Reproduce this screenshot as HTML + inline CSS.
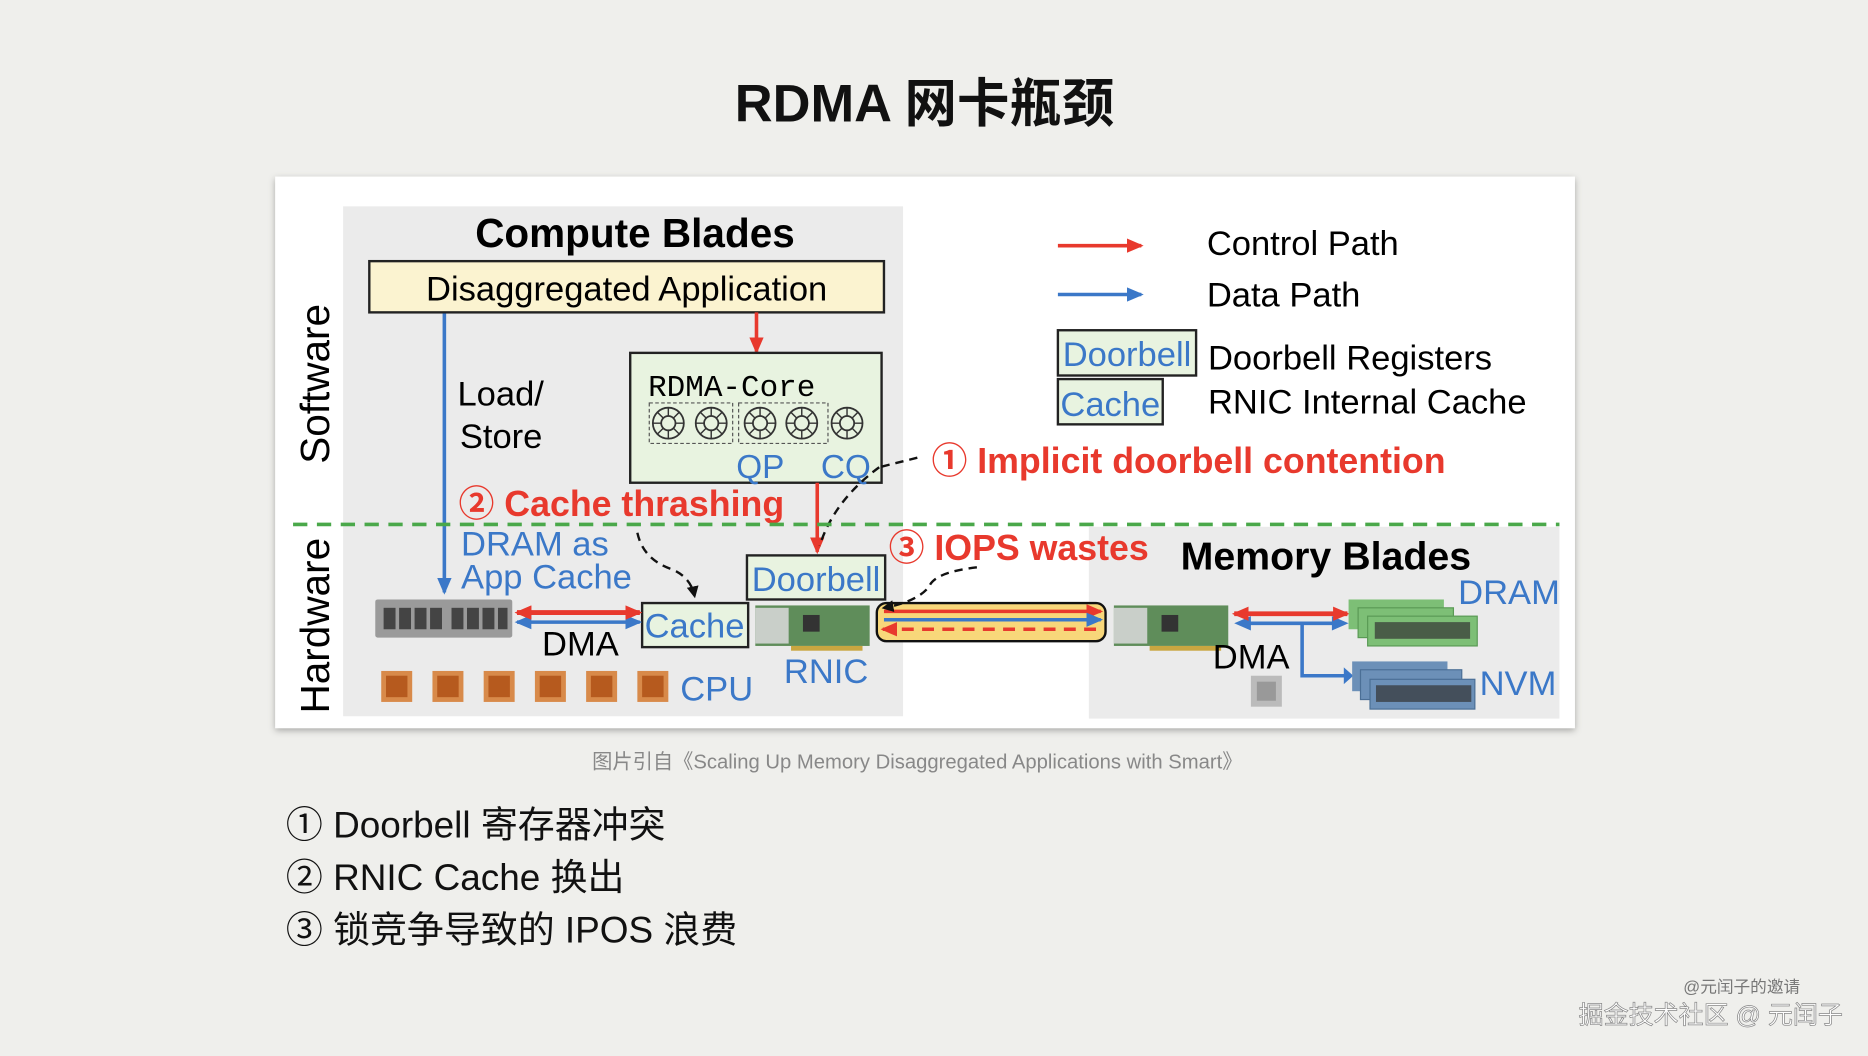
<!DOCTYPE html>
<html><head><meta charset="utf-8"><style>
html,body{margin:0;padding:0;background:#efefec;}
svg{display:block}
</style></head><body>
<svg width="1868" height="1056" viewBox="0 0 1568 886" xmlns="http://www.w3.org/2000/svg" font-family="Liberation Sans, Noto Sans CJK SC, sans-serif">
<defs>
<marker id="ar" markerWidth="14" markerHeight="12" refX="12" refY="6" orient="auto-start-reverse" markerUnits="userSpaceOnUse"><path d="M0,0 L14,6 L0,12z" fill="#e8392d"/></marker>
<marker id="ab" markerWidth="14" markerHeight="12" refX="12" refY="6" orient="auto-start-reverse" markerUnits="userSpaceOnUse"><path d="M0,0 L14,6 L0,12z" fill="#3b78c8"/></marker>
<marker id="ak" markerWidth="10" markerHeight="10" refX="8" refY="5" orient="auto" markerUnits="userSpaceOnUse"><path d="M0,0 L10,5 L0,10z" fill="#111"/></marker>
<filter id="sh" x="-5%" y="-5%" width="110%" height="115%"><feDropShadow dx="0" dy="2" stdDeviation="3" flood-opacity="0.3"/></filter>
<g id="chip"><rect x="-13" y="-13" width="26" height="26" fill="#d88a4a"/><rect x="-9" y="-9" width="18" height="18" fill="#b65a1e"/></g>
<g id="gear"><circle r="13" fill="none" stroke="#333" stroke-width="1.5"/><circle r="6" fill="none" stroke="#333" stroke-width="1.5"/><path d="M0,-13V-6M0,13V6M-13,0H-6M13,0H6M-9,-9L-4,-4M9,9L4,4M-9,9L-4,4M9,-9L4,-4" stroke="#333" stroke-width="1.2"/></g>
<g id="nic"><rect x="0" y="0" width="96" height="34" fill="#5f8d5a"/><rect x="0" y="2" width="28" height="30" fill="#c9cfc9"/><rect x="40" y="8" width="14" height="14" fill="#333"/><rect x="30" y="34" width="60" height="4" fill="#c9a640"/></g>
</defs>
<text x="776" y="102" font-size="44" font-weight="bold" text-anchor="middle" fill="#111">RDMA 网卡瓶颈</text>
<rect x="231" y="148" width="1091" height="463" fill="#fff" filter="url(#sh)"/>
<rect x="288" y="173" width="470" height="428" fill="#ebebeb"/>
<rect x="914" y="442" width="395" height="161" fill="#ebebeb"/>
<text x="533" y="207" font-size="34" font-weight="bold" text-anchor="middle">Compute Blades</text>
<rect x="310" y="219" width="432" height="43" fill="#fbf3d0" stroke="#222" stroke-width="2"/>
<text x="526" y="252" font-size="29" text-anchor="middle">Disaggregated Application</text>
<line x1="373" y1="263" x2="373" y2="497" stroke="#3b78c8" stroke-width="3" marker-end="url(#ab)"/>
<text x="384" y="340" font-size="29">Load/</text><text x="386" y="376" font-size="29">Store</text>
<line x1="635" y1="262" x2="635" y2="295" stroke="#e8392d" stroke-width="3" marker-end="url(#ar)"/>
<rect x="529" y="296" width="211" height="109" fill="#e8f3e0" stroke="#222" stroke-width="2"/>
<text x="544" y="332" font-size="26" font-family="Liberation Mono, monospace">RDMA-Core</text>
<rect x="545" y="338" width="70" height="34" fill="none" stroke="#555" stroke-dasharray="3,2"/>
<rect x="620" y="338" width="75" height="34" fill="none" stroke="#555" stroke-dasharray="3,2"/>
<use href="#gear" x="561" y="355"/><use href="#gear" x="597" y="355"/><use href="#gear" x="638" y="355"/><use href="#gear" x="673" y="355"/><use href="#gear" x="711" y="355"/>
<text x="618" y="401" font-size="28" fill="#3b78c8">QP</text><text x="689" y="401" font-size="28" fill="#3b78c8">CQ</text>
<line x1="686" y1="405" x2="686" y2="463" stroke="#e8392d" stroke-width="3" marker-end="url(#ar)"/>
<path d="M770,384 L738,392 M738,392 Q700,420 688,458" fill="none" stroke="#111" stroke-width="2" stroke-dasharray="7,5"/>
<text x="782" y="397" font-size="30" font-weight="bold" fill="#e8392d">① Implicit doorbell contention</text>
<text x="385" y="433" font-size="30" font-weight="bold" fill="#e8392d">② Cache thrashing</text>
<line x1="246" y1="440" x2="1309" y2="440" stroke="#4aa84a" stroke-width="3" stroke-dasharray="12,8"/>
<text transform="translate(276,322) rotate(-90)" font-size="34" text-anchor="middle">Software</text>
<text transform="translate(276,525) rotate(-90)" font-size="34" text-anchor="middle">Hardware</text>
<text x="387" y="466" font-size="29" fill="#3b78c8">DRAM as</text><text x="387" y="494" font-size="29" fill="#3b78c8">App Cache</text>
<path d="M535,447 Q540,470 565,478 Q580,485 583,500" fill="none" stroke="#111" stroke-width="2" stroke-dasharray="7,5" marker-end="url(#ak)"/>
<rect x="627" y="466" width="116" height="37" fill="#e8f3e0" stroke="#222" stroke-width="2"/>
<text x="685" y="496" font-size="29" fill="#3b78c8" text-anchor="middle">Doorbell</text>
<rect x="539" y="506" width="89" height="37" fill="#e8f3e0" stroke="#222" stroke-width="2"/>
<text x="583" y="535" font-size="29" fill="#3b78c8" text-anchor="middle">Cache</text>
<rect x="315" y="503" width="115" height="32" fill="#9a9a9a" rx="2"/>
<g fill="#444"><rect x="322" y="510" width="10" height="18"/><rect x="335" y="510" width="10" height="18"/><rect x="348" y="510" width="10" height="18"/><rect x="361" y="510" width="10" height="18"/><rect x="379" y="510" width="10" height="18"/><rect x="392" y="510" width="10" height="18"/><rect x="405" y="510" width="10" height="18"/><rect x="418" y="510" width="8" height="18"/></g>
<line x1="434" y1="514" x2="537" y2="514" stroke="#e8392d" stroke-width="4" marker-end="url(#ar)" marker-start="url(#ar)"/>
<line x1="434" y1="522" x2="537" y2="522" stroke="#3b78c8" stroke-width="3" marker-end="url(#ab)" marker-start="url(#ab)"/>
<line x1="434" y1="514" x2="537" y2="514" stroke="#e8392d" stroke-width="4" marker-end="url(#ar)" marker-start="url(#ar)"/>
<text x="455" y="550" font-size="29">DMA</text>
<use href="#chip" x="333" y="576"/><use href="#chip" x="376" y="576"/><use href="#chip" x="419" y="576"/><use href="#chip" x="462" y="576"/><use href="#chip" x="505" y="576"/><use href="#chip" x="548" y="576"/>
<text x="571" y="588" font-size="29" fill="#3b78c8">CPU</text>
<use href="#nic" x="634" y="508"/>
<text x="658" y="573" font-size="29" fill="#3b78c8">RNIC</text>
<text x="746" y="470" font-size="30" font-weight="bold" fill="#e8392d">③ IOPS wastes</text>
<rect x="736" y="506" width="192" height="32" rx="8" fill="#f8d77a" stroke="#111" stroke-width="2"/>
<line x1="742" y1="513" x2="924" y2="513" stroke="#e8392d" stroke-width="3" marker-end="url(#ar)"/>
<line x1="742" y1="520" x2="924" y2="520" stroke="#3b78c8" stroke-width="3" marker-end="url(#ab)"/>
<line x1="920" y1="528" x2="741" y2="528" stroke="#e8392d" stroke-width="3" stroke-dasharray="10,7" marker-end="url(#ar)"/>
<path d="M820,476 Q785,480 780,492 Q770,505 742,510" fill="none" stroke="#111" stroke-width="2" stroke-dasharray="7,5" marker-end="url(#ak)"/>
<text x="991" y="478" font-size="33" font-weight="bold">Memory Blades</text>
<use href="#nic" x="935" y="508"/>
<path d="M1040,523 H1128 M1093,523 V567 H1130" fill="none" stroke="#3b78c8" stroke-width="3"/>
<path d="M1128,560 L1136,567 L1128,574z" fill="#3b78c8"/>
<path d="M1050,517 L1036,523 L1050,529z M1118,517 L1132,523 L1118,529z" fill="#3b78c8"/>
<line x1="1036" y1="515" x2="1131" y2="515" stroke="#e8392d" stroke-width="4" marker-end="url(#ar)" marker-start="url(#ar)"/>
<text x="1018" y="561" font-size="29">DMA</text>
<g><rect x="1132" y="503" width="80" height="25" fill="#7dbf76"/><rect x="1140" y="510" width="80" height="25" fill="#7dbf76" stroke="#5a9a55"/><rect x="1148" y="517" width="92" height="25" fill="#7dbf76" stroke="#5a9a55"/><rect x="1154" y="522" width="80" height="14" fill="#333" opacity="0.7"/></g>
<text x="1224" y="507" font-size="29" fill="#3b78c8">DRAM</text>
<g><rect x="1135" y="555" width="80" height="25" fill="#6c90b8"/><rect x="1142" y="562" width="85" height="25" fill="#6c90b8" stroke="#4b6f96"/><rect x="1150" y="570" width="88" height="25" fill="#6c90b8" stroke="#4b6f96"/><rect x="1155" y="575" width="80" height="14" fill="#333" opacity="0.7"/></g>
<text x="1242" y="583" font-size="29" fill="#3b78c8">NVM</text>
<rect x="1050" y="567" width="26" height="26" fill="#bbb"/><rect x="1055" y="572" width="16" height="16" fill="#999"/>
<line x1="888" y1="206" x2="958" y2="206" stroke="#e8392d" stroke-width="3" marker-end="url(#ar)"/>
<line x1="888" y1="247" x2="958" y2="247" stroke="#3b78c8" stroke-width="3" marker-end="url(#ab)"/>
<text x="1013" y="214" font-size="29">Control Path</text>
<text x="1013" y="257" font-size="29">Data Path</text>
<rect x="888" y="277" width="116" height="38" fill="#e8f3e0" stroke="#222" stroke-width="2"/>
<text x="946" y="307" font-size="29" fill="#3b78c8" text-anchor="middle">Doorbell</text>
<rect x="888" y="318" width="88" height="38" fill="#e8f3e0" stroke="#222" stroke-width="2"/>
<text x="932" y="349" font-size="29" fill="#3b78c8" text-anchor="middle">Cache</text>
<text x="1014" y="310" font-size="29">Doorbell Registers</text>
<text x="1014" y="347" font-size="29">RNIC Internal Cache</text>
<text x="770" y="645" font-size="17" fill="#888" text-anchor="middle">图片引自《Scaling Up Memory Disaggregated Applications with Smart》</text>
<g font-size="31" fill="#111"><text x="240" y="703">① Doorbell 寄存器冲突</text><text x="240" y="747">② RNIC Cache 换出</text><text x="240" y="791">③ 锁竞争导致的 IPOS 浪费</text></g>
<text x="1462" y="833" font-size="14" fill="#777" text-anchor="middle">@元闰子的邀请</text>
<text x="1436" y="859" font-size="21" fill="#fff" stroke="#888" stroke-width="0.6" text-anchor="middle">掘金技术社区 @ 元闰子</text>
</svg>
</body></html>
